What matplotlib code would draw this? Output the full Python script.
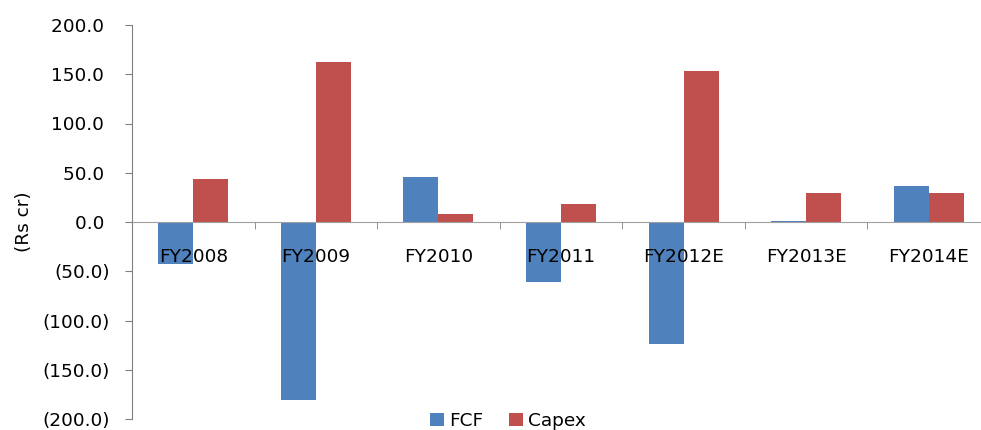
import numpy as np
import matplotlib
matplotlib.use("Agg")
import matplotlib.pyplot as plt
from matplotlib.ticker import FuncFormatter, FixedLocator

years = ["FY2008", "FY2009", "FY2010", "FY2011", "FY2012E", "FY2013E", "FY2014E"]
fcf = [-43.0, -181.0, 45.5, -61.0, -124.0, 1.0, 36.5]
capex = [44.0, 162.5, 8.0, 18.5, 153.5, 29.0, 29.0]

plt.rcParams["font.family"] = ["DejaVu Sans"]
FS = 13.3

fig = plt.figure(figsize=(9.81, 4.30), dpi=100)
ax = fig.add_axes([132 / 981, 1 - 419 / 430, 858 / 981, 394 / 430])

x = np.arange(len(years))
w = 0.285
ax.bar(x - w / 2, fcf, w, color="#4F81BD", label="FCF", zorder=2)
ax.bar(x + w / 2, capex, w, color="#C0504D", label="Capex", zorder=2)
# keep the category names on top of the bars
ax.set_axisbelow(False)

ax.set_xlim(-0.5, len(years) - 0.5)
ax.set_ylim(-200, 200)
ax.set_yticks(np.arange(-200, 201, 50))


def paren(v, pos):
    return f"({abs(v):.1f})" if v < 0 else f"{v:.1f} "


ax.yaxis.set_major_formatter(FuncFormatter(paren))
ax.tick_params(axis="y", length=5, color="#808080", labelsize=FS, pad=11)

# category axis sits on the zero line
for s in ["top", "right"]:
    ax.spines[s].set_visible(False)
ax.spines["bottom"].set_position(("data", 0))
ax.spines["bottom"].set_color("#A0A0A0")
ax.spines["left"].set_color("#808080")

ax.set_xticks(x)
ax.set_xticklabels(years)
ax.tick_params(axis="x", which="major", length=0, labelsize=FS, pad=19)
ax.xaxis.set_minor_locator(FixedLocator(np.arange(0.5, len(years) - 1, 1)))
ax.tick_params(axis="x", which="minor", length=5, color="#808080")

ax.set_ylabel("(Rs cr)", fontsize=FS)
ax.yaxis.set_label_coords(-0.115, 0.5)

fig.legend(loc="center", bbox_to_anchor=(508 / 981, 1 - 421 / 430), ncol=2,
           frameon=False, fontsize=FS, handlelength=0.75, handleheight=0.75,
           handletextpad=0.3, columnspacing=1.4)

fig.savefig("out.png", dpi=100)
